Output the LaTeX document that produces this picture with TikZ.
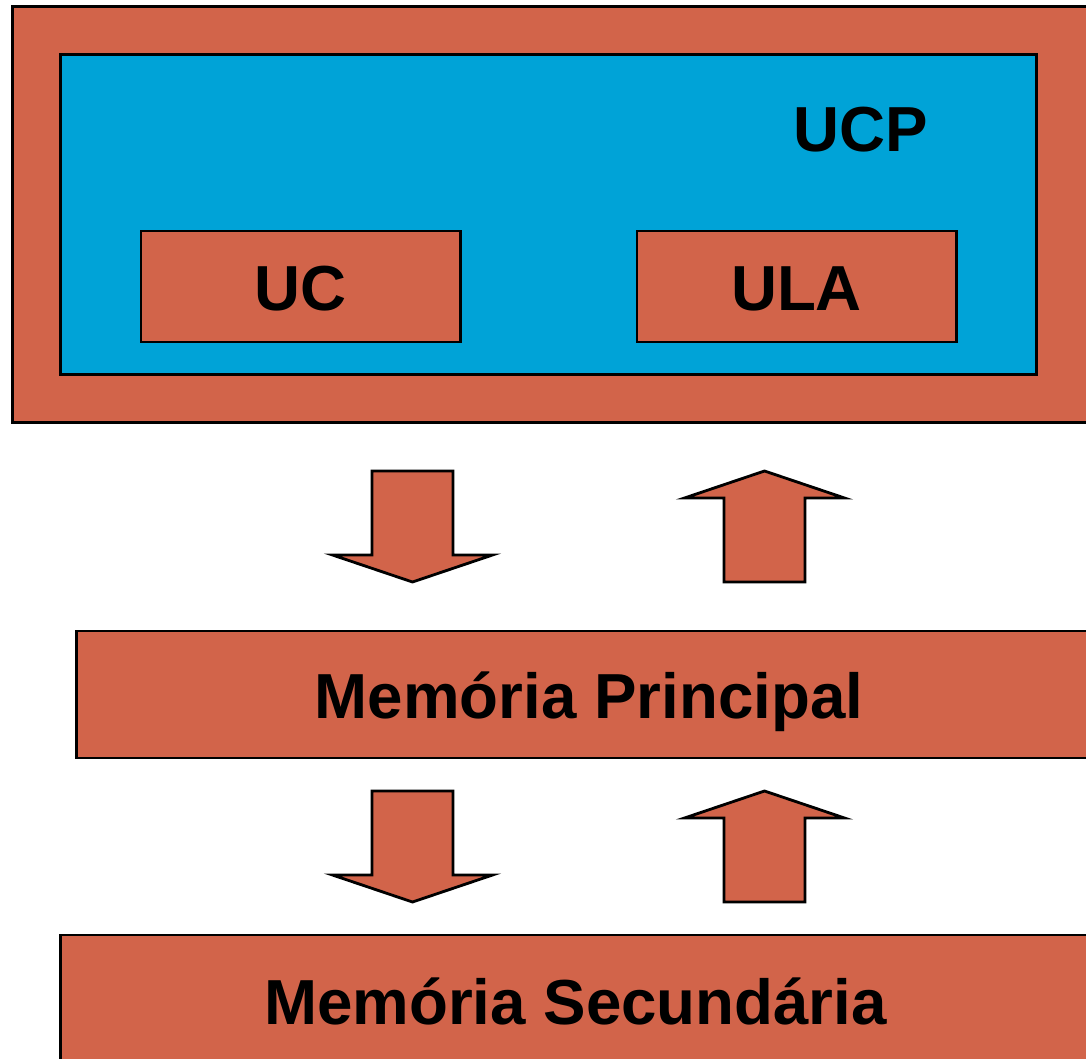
\documentclass[tikz,border=0pt]{standalone}
\usepackage{fontspec}
\setmainfont{Liberation Sans}
\definecolor{brick}{RGB}{210,100,74}
\definecolor{cpublue}{RGB}{0,163,215}

% block arrows, x = centre, y = top end
\newcommand{\arrowdown}[2]{
  \draw[blockarrow] (#1-40.5,#2) -- (#1+40.5,#2) -- (#1+40.5,#2+84) -- (#1+80,#2+84)
    -- (#1,#2+111) -- (#1-80,#2+84) -- (#1-40.5,#2+84) -- cycle;}
\newcommand{\arrowup}[2]{
  \draw[blockarrow] (#1-40.5,#2+111) -- (#1+40.5,#2+111) -- (#1+40.5,#2+27) -- (#1+80,#2+27)
    -- (#1,#2) -- (#1-80,#2+27) -- (#1-40.5,#2+27) -- cycle;}

\begin{document}
\begin{tikzpicture}[x=0.01cm, y=-0.01cm,
    label/.style={inner sep=0pt, text height=13.9pt, text depth=0pt,
      font=\fontsize{18.1}{21}\selectfont\bfseries},
    box/.style={label, draw=black, line width=0.8pt, fill=brick},
    blockarrow/.style={draw=black, line width=0.8pt, fill=brick, line join=miter}]
  \useasboundingbox (0,0) rectangle (1086,1058);
  \clip (0,0) rectangle (1086,1058);

  % UCP
  \node[box, minimum width=10.77cm, minimum height=4.15cm] (outer) at (551.5,214.5) {};
  \node[box, fill=cpublue, minimum width=9.75cm, minimum height=3.19cm] (ucp) at (548.5,214.5) {};
  \node[label] (ucplabel) at (861,127) {UCP};
  \node[box, minimum width=3.19cm, minimum height=1.11cm] (uc) at (300.5,286.5) {UC};
  \node[box, minimum width=3.19cm, minimum height=1.11cm] (ula) at (796.5,286.5) {ULA};

  % memorias
  \node[box, minimum width=10.24cm, minimum height=1.27cm] (mp) at (589,694.5) {Memória Principal};
  \node[box, minimum width=10.29cm, minimum height=1.30cm] (ms) at (575.5,1000) {Memória Secundária};

  % setas
  \arrowdown{412.5}{471}
  \arrowup{764.5}{471}
  \arrowdown{412.5}{791}
  \arrowup{764.5}{791}
\end{tikzpicture}
\end{document}
